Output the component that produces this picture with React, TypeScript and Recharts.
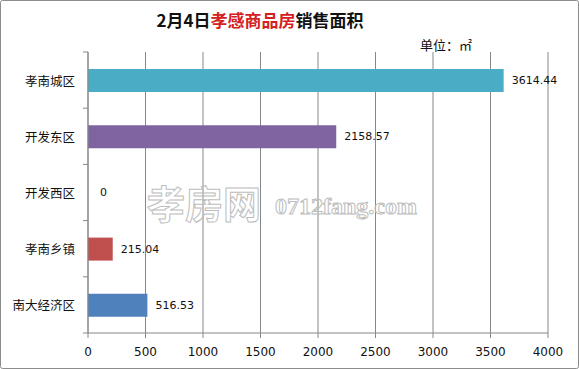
import { BarChart, Bar, XAxis, YAxis, CartesianGrid, Cell, LabelList } from "recharts";

const districts = ["孝南城区", "开发东区", "开发西区", "孝南乡镇", "南大经济区"];
const areas = [3614.44, 2158.57, 0, 215.04, 516.53];
const barColors = ["#4BACC6", "#8064A2", "#9BBB59", "#C0504D", "#4F81BD"];
const xTicks = [0, 500, 1000, 1500, 2000, 2500, 3000, 3500, 4000];

const data = districts.map((name, i) => ({ name, area: areas[i] }));

const W = 579;
const H = 369;
const TOP = 52;
const BOTTOM = 36;
const LEFT = 88;
const RIGHT = 31;
const band = (H - TOP - BOTTOM) / districts.length;

const font = "'Noto Sans CJK SC', 'DejaVu Sans', sans-serif";
const axisColor = "#878787";

// category label plus excel-style tick marks between bands
const CategoryTick = (props: any) => {
  const { y, payload, index } = props;
  const last = index === districts.length - 1;
  return (
    <g>
      <line x1={LEFT - 5} x2={LEFT} y1={y - band / 2} y2={y - band / 2} stroke={axisColor} />
      {last && <line x1={LEFT - 5} x2={LEFT} y1={y + band / 2} y2={y + band / 2} stroke={axisColor} />}
      <text x={75} y={y} textAnchor="end" dominantBaseline="central" fontSize={12.5} fill="#111" fontFamily={font}>
        {payload.value}
      </text>
    </g>
  );
};

// value label to the right of each bar (also drawn for zero values)
const ValueLabel = (props: any) => {
  const { x, y, width, height, value } = props;
  return (
    <text
      x={x + width + (value === 0 ? 12 : 8)}
      y={y + height / 2}
      dominantBaseline="central"
      fontSize={11}
      fill="#111"
      fontFamily="'DejaVu Sans', sans-serif"
    >
      {value}
    </text>
  );
};

export default function App() {
  return (
    <div style={{ position: "absolute", left: 0, top: 0, width: W, height: H, background: "#fff" }}>
      <BarChart
        width={W}
        height={H}
        data={data}
        layout="vertical"
        margin={{ top: TOP, right: RIGHT, bottom: 0, left: 0 }}
        barCategoryGap={0}
      >
        <CartesianGrid horizontal={false} stroke={axisColor} strokeWidth={1} />
        <XAxis
          type="number"
          domain={[0, 4000]}
          ticks={xTicks}
          height={BOTTOM}
          stroke={axisColor}
          tickSize={5}
          tick={{ fill: "#111", fontSize: 12, fontFamily: "'DejaVu Sans', sans-serif", dy: 7 }}
        />
        <YAxis
          type="category"
          dataKey="name"
          width={LEFT}
          stroke={axisColor}
          tickLine={false}
          tick={<CategoryTick />}
          interval={0}
        />
        <Bar
          dataKey="area"
          barSize={23}
          isAnimationActive={false}
          minPointSize={(v: number) => (v === 0 ? 0.01 : 0)}
        >
          {data.map((d, i) => (
            <Cell key={d.name} fill={barColors[i]} />
          ))}
          <LabelList dataKey="area" content={<ValueLabel />} />
        </Bar>
      </BarChart>

      <svg width={W} height={H} style={{ position: "absolute", left: 0, top: 0, pointerEvents: "none" }}>
        <rect x={0.5} y={0.5} width={W - 1} height={H - 1} fill="none" stroke="#8c8c8c" rx={2} />
        <text x={260} y={27} textAnchor="middle" fontSize={17} fontWeight="bold" fontFamily={font} fill="#111">
          2月4日<tspan fill="#d42020">孝感商品房</tspan>销售面积
        </text>
        <text x={420} y={50} fontSize={13} fontFamily={font} fill="#111">
          单位：㎡
        </text>
        <text x={147} y={218} fontSize={38} fontWeight="bold" fontFamily={font} fill="none" stroke="#bdbdbd" strokeWidth={1}>
          孝房网
        </text>
        <text x={275} y={214} fontSize={24} fontFamily="'Liberation Serif', serif" fontWeight="bold" fill="none" stroke="#bdbdbd" strokeWidth={1}>
          0712fang.com
        </text>
      </svg>
    </div>
  );
}
